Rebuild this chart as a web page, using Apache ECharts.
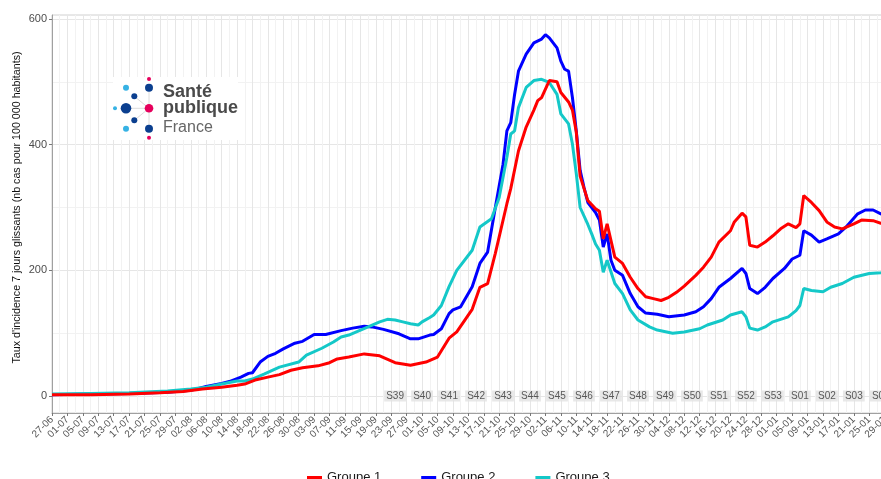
<!DOCTYPE html>
<html>
<head>
<meta charset="utf-8">
<script src="https://cdn.jsdelivr.net/npm/echarts@6/dist/echarts.min.js"></script>
<style>
html,body{margin:0;padding:0;background:#fff;}
#c{width:881px;height:479px;}
</style>
</head>
<body>
<div id="c"></div>
<script>
// ---------- DATA ----------
const seriesNames = ['Groupe 1', 'Groupe 2', 'Groupe 3'];
const seriesColors = ['#ff0000', '#0000ff', '#14c8c8'];

const groupe1 = [
 ['27-06',2],['07-07',2],['17-07',3],['25-07',5],['31-07',7],['05-08',11],['10-08',14],['14-08',17],
 ['16-08',19],['19-08',26],['22-08',30],['25-08',34],['28-08',41],['31-08',45],['04-09',48],['07-09',53],
 ['09-09',59],['12-09',62],['16-09',67],['20-09',64],['24-09',53],['28-09',49],['02-10',54],['05-10',62],
 ['08-10',92],['10-10',102],['14-10',138],['16-10',173],['18-10',179],['20-10',227],['23-10',306],['24-10',330],
 ['26-10',390],['28-10',428],['30-10',455],['31-10',470],['01-11',475],['03-11',502],['05-11',500],['06-11',483],
 ['08-11',468],['09-11',455],['10-11',420],['11-11',350],['13-11',311],['15-11',298],['16-11',294],['17-11',250],
 ['18-11',274],['20-11',221],['22-11',211],['24-11',189],['26-11',171],['28-11',158],['30-11',155],['02-12',152],
 ['04-12',157],['06-12',165],['08-12',175],['11-12',192],['13-12',205],['15-12',221],['17-12',245],['20-12',263],
 ['21-12',277],['23-12',291],['24-12',285],['25-12',240],['27-12',237],['29-12',245],['31-12',255],['02-01',266],
 ['04-01',274],['06-01',268],['07-01',274],['08-01',319],['10-01',308],['12-01',295],['14-01',277],['16-01',269],
 ['18-01',266],['21-01',274],['23-01',280],['26-01',279],['28-01',275],['30-01',273]
];

const groupe2 = [
 ['27-06',2],['07-07',3],['17-07',4],['27-07',6],['02-08',9],['06-08',15],['10-08',20],['12-08',23],
 ['15-08',30],['17-08',36],['18-08',37],['20-08',54],['22-08',63],['24-08',68],['26-08',75],['29-08',84],
 ['31-08',87],['03-09',98],['06-09',98],['10-09',104],['13-09',108],['16-09',111],['18-09',110],['21-09',106],
 ['25-09',99],['28-09',91],['30-09',91],['03-10',97],['04-10',98],['06-10',107],['08-10',131],['09-10',137],
 ['11-10',142],['14-10',174],['16-10',211],['18-10',229],['20-10',300],['22-10',369],['23-10',422],['24-10',435],
 ['25-10',480],['26-10',517],['28-10',544],['30-10',562],['01-11',568],['02-11',575],['03-11',570],['05-11',554],
 ['06-11',533],['07-11',520],['08-11',517],['09-11',475],['10-11',422],['11-11',359],['12-11',332],['13-11',308],
 ['15-11',292],['16-11',280],['17-11',237],['18-11',258],['19-11',216],['20-11',200],['22-11',192],['24-11',163],
 ['26-11',142],['28-11',132],['01-12',130],['04-12',126],['08-12',129],['11-12',134],['13-12',142],['15-12',155],
 ['17-12',173],['20-12',187],['23-12',203],['24-12',195],['25-12',171],['27-12',163],['29-12',173],['31-12',187],
 ['03-01',203],['05-01',218],['07-01',224],['08-01',263],['10-01',256],['12-01',245],['14-01',250],['17-01',258],
 ['19-01',269],['22-01',290],['24-01',296],['26-01',296],['28-01',290],['30-01',286]
];

const groupe3 = [
 ['27-06',3],['07-07',4],['17-07',5],['27-07',8],['02-08',11],['06-08',14],['10-08',19],['14-08',24],
 ['16-08',24],['18-08',27],['21-08',35],['25-08',46],['30-08',54],['01-09',65],['05-09',76],['08-09',86],
 ['10-09',94],['12-09',97],['17-09',110],['20-09',118],['22-09',122],['24-09',121],['26-09',118],['28-09',115],
 ['30-09',113],['01-10',118],['03-10',125],['04-10',129],['06-10',144],['08-10',174],['10-10',200],['14-10',232],
 ['16-10',269],['19-10',282],['21-10',316],['23-10',380],['24-10',417],['25-10',422],['26-10',459],['28-10',491],
 ['30-10',502],['01-11',504],['03-11',499],['05-11',480],['06-11',449],['08-11',433],['09-11',401],['10-11',354],
 ['11-11',300],['13-11',273],['14-11',258],['15-11',242],['16-11',232],['17-11',197],['18-11',216],['20-11',179],
 ['22-11',163],['24-11',137],['26-11',121],['29-11',110],['01-12',105],['05-12',100],['08-12',102],['12-12',107],
 ['14-12',113],['18-12',121],['20-12',129],['23-12',134],['24-12',126],['25-12',108],['27-12',105],['29-12',110],
 ['31-12',118],['04-01',126],['06-01',136],['07-01',144],['08-01',171],['10-01',168],['13-01',166],['15-01',173],
 ['18-01',179],['21-01',189],['25-01',195],['28-01',196],['30-01',197]
];

const weekLabels = ['S39','S40','S41','S42','S43','S44','S45','S46','S47','S48','S49','S50','S51','S52','S53','S01','S02','S03','S04'];
const weekDates  = ['24-09','01-10','08-10','15-10','22-10','29-10','05-11','12-11','19-11','26-11','03-12','10-12','17-12','24-12','31-12','07-01','14-01','21-01','28-01'];

const yAxisTitle = "Taux d'incidence 7 jours glissants (nb cas pour 100 000 habitants)";

// daily category labels (dd-mm), 27-06-2020 .. 31-01-2021
const categories = [];
(function () {
  const start = Date.UTC(2020, 5, 27);
  for (let i = 0; i < 219; i++) {
    const d = new Date(start + i * 86400000);
    categories.push(String(d.getUTCDate()).padStart(2, '0') + '-' + String(d.getUTCMonth() + 1).padStart(2, '0'));
  }
})();

// ---------- LAYOUT ----------
const FONT = '"Liberation Sans", Arial, Helvetica, sans-serif';
const pxPerDay = 3.855;
const gridLeft = 52;
const gridWidth = (categories.length - 1) * pxPerDay;

const chart = echarts.init(document.getElementById('c'), null, { renderer: 'canvas' });

const dataSeries = [groupe1, groupe2, groupe3].map((d, i) => ({
  name: seriesNames[i],
  type: 'line',
  xAxisIndex: 1,
  yAxisIndex: 1,
  data: d,
  symbol: 'none',
  showSymbol: false,
  lineStyle: { width: 3, color: seriesColors[i] },
  itemStyle: { color: seriesColors[i] },
  z: [5, 3, 4][i]
}));

const weekSeries = {
  type: 'scatter',
  xAxisIndex: 1,
  yAxisIndex: 1,
  silent: true,
  symbolSize: 1,
  itemStyle: { color: 'rgba(0,0,0,0)' },
  data: weekDates.map((d, i) => ({ name: weekLabels[i], value: [d, 0] })),
  label: {
    show: true, position: 'inside', formatter: '{b}',
    fontFamily: FONT, fontSize: 10, color: '#333',
    backgroundColor: '#e2e2e2', padding: [1, 2, 0, 2]
  },
  z: 10
};

// logo elements
const navy = '#0b3f8f', light = '#36b2e4', pink = '#e6005c';
const logo = [
  { type: 'rect', shape: { x: 113, y: 77, width: 125, height: 63 }, style: { fill: '#ffffff' }, z: 50 },
  { type: 'line', shape: { x1: 126, y1: 108.3, x2: 149, y2: 108.3 }, style: { stroke: '#dcdcdc', lineWidth: 1 }, z: 51 },
  { type: 'line', shape: { x1: 134.3, y1: 96.3, x2: 149, y2: 108.3 }, style: { stroke: '#dcdcdc', lineWidth: 1 }, z: 51 },
  { type: 'line', shape: { x1: 134.3, y1: 120.3, x2: 149, y2: 108.3 }, style: { stroke: '#dcdcdc', lineWidth: 1 }, z: 51 },
  { type: 'line', shape: { x1: 149, y1: 88, x2: 149, y2: 129 }, style: { stroke: '#dcdcdc', lineWidth: 1 }, z: 51 },
  { type: 'circle', shape: { cx: 149, cy: 79, r: 2 }, style: { fill: pink }, z: 52 },
  { type: 'circle', shape: { cx: 126, cy: 87.7, r: 3 }, style: { fill: light }, z: 52 },
  { type: 'circle', shape: { cx: 149, cy: 87.7, r: 4 }, style: { fill: navy }, z: 52 },
  { type: 'circle', shape: { cx: 134.3, cy: 96.3, r: 3 }, style: { fill: navy }, z: 52 },
  { type: 'circle', shape: { cx: 115, cy: 108.3, r: 2 }, style: { fill: light }, z: 52 },
  { type: 'circle', shape: { cx: 126, cy: 108.3, r: 5.3 }, style: { fill: navy }, z: 52 },
  { type: 'circle', shape: { cx: 149, cy: 108.3, r: 4.3 }, style: { fill: pink }, z: 52 },
  { type: 'circle', shape: { cx: 134.3, cy: 120.3, r: 3 }, style: { fill: navy }, z: 52 },
  { type: 'circle', shape: { cx: 126, cy: 128.7, r: 3 }, style: { fill: light }, z: 52 },
  { type: 'circle', shape: { cx: 149, cy: 128.7, r: 4 }, style: { fill: navy }, z: 52 },
  { type: 'circle', shape: { cx: 149, cy: 137.7, r: 2 }, style: { fill: pink }, z: 52 },
  { type: 'text', x: 163, y: 92, style: { text: 'Santé', font: 'bold 18px ' + FONT, fill: '#4a4a4a', verticalAlign: 'middle' }, z: 52 },
  { type: 'text', x: 163, y: 108, style: { text: 'publique', font: 'bold 18px ' + FONT, fill: '#4a4a4a', verticalAlign: 'middle' }, z: 52 },
  { type: 'text', x: 163, y: 128, style: { text: 'France', font: '16px ' + FONT, fill: '#666666', verticalAlign: 'middle' }, z: 52 }
];

const option = {
  animation: false,
  backgroundColor: '#ffffff',
  textStyle: { fontFamily: FONT },
  grid: [
    { left: gridLeft, top: 15, width: gridWidth, height: 398, show: true, borderColor: '#d0d0d0', borderWidth: 1, backgroundColor: '#ffffff', containLabel: false, outerBoundsMode: 'none' },
    { left: gridLeft, top: 19, width: gridWidth, height: 377, containLabel: false, outerBoundsMode: 'none' }
  ],
  xAxis: [
    {
      gridIndex: 0, type: 'category', data: categories, boundaryGap: false,
      axisLine: { show: true, lineStyle: { color: '#a0a0a0', width: 1 } },
      axisTick: { show: true, interval: 3, length: 3, lineStyle: { color: '#777' } },
      axisLabel: { interval: 3, rotate: 45, fontSize: 10, color: '#555', margin: 5, fontFamily: FONT },
      splitLine: { show: true, interval: 1, lineStyle: { color: ['#e6e6e6', '#f2f2f2'], width: 1 } }
    },
    { gridIndex: 1, type: 'category', data: categories, boundaryGap: false, show: false }
  ],
  yAxis: [
    {
      gridIndex: 0, type: 'value', min: 0, max: 1,
      axisLine: { show: true, lineStyle: { color: '#a0a0a0', width: 1 } },
      axisTick: { show: false }, axisLabel: { show: false }, splitLine: { show: false }
    },
    {
      gridIndex: 1, type: 'value', min: 0, max: 600, interval: 200,
      name: yAxisTitle, nameLocation: 'middle', nameRotate: 90, nameGap: 29, nameMoveOverlap: false,
      nameTextStyle: { fontSize: 10.7, color: '#111', fontFamily: FONT },
      axisLine: { show: false },
      axisTick: { show: true, length: 3, lineStyle: { color: '#777' } },
      axisLabel: { fontSize: 11, color: '#4d4d4d', margin: 5, fontFamily: FONT },
      splitLine: { show: true, lineStyle: { color: '#e6e6e6', width: 1 } },
      minorTick: { show: false, splitNumber: 2 },
      minorSplitLine: { show: true, lineStyle: { color: '#f2f2f2', width: 1 } }
    }
  ],
  legend: {
    data: seriesNames, left: 302, top: 466, icon: 'rect', itemWidth: 15, itemHeight: 3, itemGap: 40,
    textStyle: { fontSize: 13, color: '#1a1a1a', fontFamily: FONT }
  },
  graphic: logo,
  series: dataSeries.concat([weekSeries])
};

chart.setOption(option);
</script>
</body>
</html>
